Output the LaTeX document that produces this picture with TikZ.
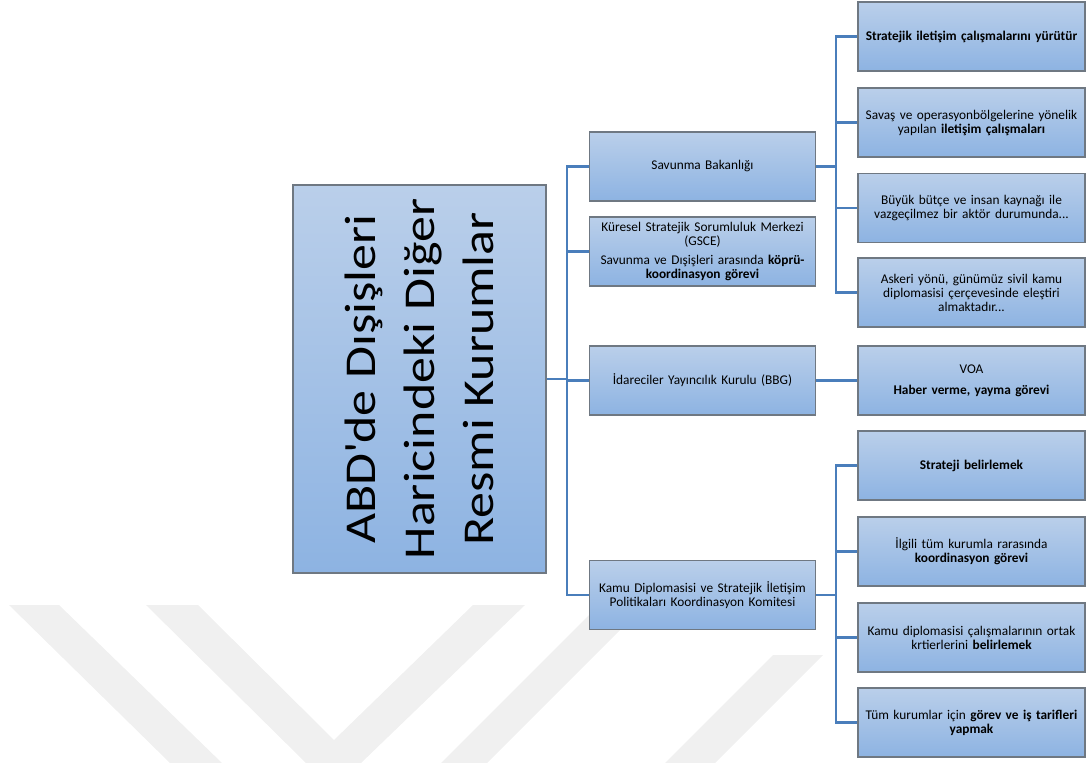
\documentclass[tikz,border=0pt]{standalone}
\usepackage{fontspec}
\setmainfont{Carlito}
\newfontfamily\bigfont[FakeStretch=1.18]{Carlito}
\definecolor{boxtop}{HTML}{BACFEA}
\definecolor{boxbot}{HTML}{8DB3E2}
\definecolor{boxline}{HTML}{6F7882}
\definecolor{conncol}{HTML}{4A7EBB}
\definecolor{wm}{HTML}{F0F0F0}
\tikzset{
 box/.style={draw=boxline, line width=0.9pt, top color=boxtop, bottom color=boxbot, align=center, inner sep=2pt, font=\fontsize{10}{10.5}\selectfont},
 l2/.style={box, minimum width=169.5pt, minimum height=51.75pt, text width=162pt},
 l3/.style={box, minimum width=170.25pt, minimum height=51.75pt, text width=164pt},
 conn/.style={draw=conncol, line width=1.6pt},
 wmark/.style={fill=wm, draw=none}
}
\begin{document}
\begin{tikzpicture}[x=0.75pt,y=-0.75pt]
\useasboundingbox (0,0) rectangle (1088,763);
% watermark
\fill[wmark] (9,605) -- (59,605) -- (222,763) -- (170,763) -- cycle;
\fill[wmark] (146,605) -- (198,605) -- (334,740) -- (473,605) -- (525,605) -- (361,763) -- (306,763) -- cycle;
\fill[wmark] (441,763) -- (487,763) -- (645,605) -- (599,605) -- cycle;
\fill[wmark] (665,763) -- (715,763) -- (823,655) -- (773,655) -- cycle;
% main box
\node[box, minimum width=189.75pt, minimum height=291pt] (main) at (419.5,379) {};
\node[rotate=90, align=center, font=\bigfont\fontsize{33}{44.25}\selectfont] (maintext) at (main.center) {ABD\textquotesingle de Dışişleri\\Haricindeki Diğer\\Resmi Kurumlar};
% level 2
\node[l2] (sav) at (702.5,166.5) {Savunma Bakanlığı};
\node[l2] (gsce) at (702.5,251.5) {\fontsize{10}{9}\selectfont Küresel Stratejik Sorumluluk Merkezi\\(GSCE)\\[5pt] Savunma ve Dışişleri arasında \textbf{köprü-}\\\textbf{koordinasyon görevi}};
\node[l2] (bbg) at (702.5,380.5) {İdareciler Yayıncılık Kurulu (BBG)};
\node[l2] (kamu) at (702.5,595) {Kamu Diplomasisi ve Stratejik İletişim\\Politikaları Koordinasyon Komitesi};
% level 3
\node[l3] (s1) at (971.5,36.5) {\textbf{Stratejik iletişim çalışmalarını yürütür}};
\node[l3] (s2) at (971.5,122.5) {Savaş ve operasyonbölgelerine yönelik\\yapılan \textbf{iletişim çalışmaları}};
\node[l3] (s3) at (971.5,208) {Büyük bütçe ve insan kaynağı ile\\vazgeçilmez bir aktör durumunda...};
\node[l3] (s4) at (971.5,292.5) {Askeri yönü, günümüz sivil kamu\\diplomasisi çerçevesinde eleştiri\\almaktadır...};
\node[l3] (voa) at (971.5,380.5) {VOA\\[5pt]\textbf{Haber verme, yayma görevi}};
\node[l3] (k1) at (971.5,465.5) {\textbf{Strateji belirlemek}};
\node[l3] (k2) at (971.5,551.5) {İlgili tüm kurumla rarasında\\\textbf{koordinasyon görevi}};
\node[l3] (k3) at (971.5,637.5) {Kamu diplomasisi çalışmalarının ortak\\krtierlerini \textbf{belirlemek}};
\node[l3] (k4) at (971.5,722.5) {Tüm kurumlar için \textbf{görev ve iş tarifleri}\\\textbf{yapmak}};
% connectors
\coordinate (j1) at (567,380);
\coordinate (j2) at (836,166.5);
\coordinate (j3) at (836,595);
\draw[conn] (main.east) -- (main.east -| j1);
\draw[conn] (sav.west) -| (j1) |- (kamu.west);
\draw[conn] (gsce.west) -- (gsce.west -| j1);
\draw[conn] (bbg.west) -- (bbg.west -| j1);
\draw[conn] (sav.east) -- (j2);
\draw[conn] (s1.west) -| (j2) |- (s4.west);
\draw[conn] (s2.west) -- (s2.west -| j2);
\draw[conn] (s3.west) -- (s3.west -| j2);
\draw[conn] (bbg.east) -- (voa.west);
\draw[conn] (kamu.east) -- (j3);
\draw[conn] (k1.west) -| (j3) |- (k4.west);
\draw[conn] (k2.west) -- (k2.west -| j3);
\draw[conn] (k3.west) -- (k3.west -| j3);
\end{tikzpicture}
\end{document}
